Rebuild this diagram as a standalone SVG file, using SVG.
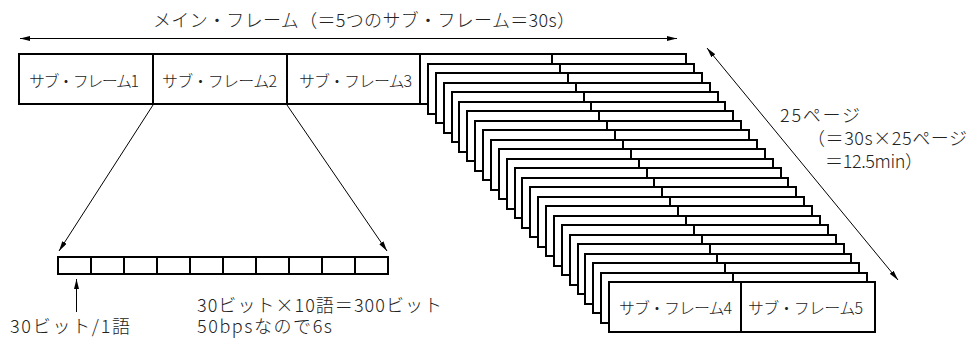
<svg xmlns="http://www.w3.org/2000/svg" xmlns:xlink="http://www.w3.org/1999/xlink" width="969" height="338" viewBox="0 0 969 338">
  <style>
    .box { fill: #fff; stroke: #000; stroke-width: 2; }
    .dv { stroke: #000; stroke-width: 2; }
    .conn { stroke: #000; stroke-width: 1; fill: none; }
    text { font-family: "Noto Sans CJK JP", "Noto Sans", "Liberation Sans", sans-serif; font-weight: 300; fill: #222; }
    .lbl { font-size: 16px; }
    .t18 { font-size: 18px; }
  </style>
  <defs>
    <marker id="ah" markerUnits="userSpaceOnUse" markerWidth="11" markerHeight="6" refX="10" refY="2.5" orient="auto-start-reverse">
      <path d="M0,0 L10,2.5 L0,5 z" fill="#000"/>
    </marker>
    <g id="pg">
      <rect class="box" x="0" y="0" width="266" height="50"/>
      <line class="dv" x1="132" y1="0" x2="132" y2="50"/>
    </g>
  </defs>
  <rect width="969" height="338" fill="#fff"/>

  <g id="title">
    <text class="t18" x="153" y="27" textLength="422" lengthAdjust="spacing">メイン・フレーム（＝5つのサブ・フレーム＝30s）</text>
  </g>

  <g id="sf1">
    <rect class="box" x="19" y="54" width="134" height="50"/>
    <text class="lbl" x="29" y="87" textLength="110" lengthAdjust="spacing">サブ・フレーム1</text>
  </g>
  <g id="sf2">
    <rect class="box" x="153" y="54" width="134" height="50"/>
    <text class="lbl" x="162" y="87" textLength="115" lengthAdjust="spacing">サブ・フレーム2</text>
  </g>
  <g id="sf3">
    <rect class="box" x="287" y="54" width="133" height="50"/>
    <text class="lbl" x="299" y="87" textLength="113" lengthAdjust="spacing">サブ・フレーム3</text>
  </g>

  <g id="page01"><use xlink:href="#pg" href="#pg" x="420" y="54"/></g>
  <g id="page02"><use xlink:href="#pg" href="#pg" x="428" y="64"/></g>
  <g id="page03"><use xlink:href="#pg" href="#pg" x="436" y="73"/></g>
  <g id="page04"><use xlink:href="#pg" href="#pg" x="444" y="83"/></g>
  <g id="page05"><use xlink:href="#pg" href="#pg" x="452" y="92"/></g>
  <g id="page06"><use xlink:href="#pg" href="#pg" x="459" y="102"/></g>
  <g id="page07"><use xlink:href="#pg" href="#pg" x="467" y="111"/></g>
  <g id="page08"><use xlink:href="#pg" href="#pg" x="475" y="121"/></g>
  <g id="page09"><use xlink:href="#pg" href="#pg" x="483" y="130"/></g>
  <g id="page10"><use xlink:href="#pg" href="#pg" x="491" y="140"/></g>
  <g id="page11"><use xlink:href="#pg" href="#pg" x="499" y="149"/></g>
  <g id="page12"><use xlink:href="#pg" href="#pg" x="507" y="159"/></g>
  <g id="page13"><use xlink:href="#pg" href="#pg" x="515" y="168"/></g>
  <g id="page14"><use xlink:href="#pg" href="#pg" x="522" y="178"/></g>
  <g id="page15"><use xlink:href="#pg" href="#pg" x="530" y="187"/></g>
  <g id="page16"><use xlink:href="#pg" href="#pg" x="538" y="197"/></g>
  <g id="page17"><use xlink:href="#pg" href="#pg" x="546" y="206"/></g>
  <g id="page18"><use xlink:href="#pg" href="#pg" x="554" y="216"/></g>
  <g id="page19"><use xlink:href="#pg" href="#pg" x="562" y="225"/></g>
  <g id="page20"><use xlink:href="#pg" href="#pg" x="570" y="235"/></g>
  <g id="page21"><use xlink:href="#pg" href="#pg" x="578" y="244"/></g>
  <g id="page22"><use xlink:href="#pg" href="#pg" x="585" y="254"/></g>
  <g id="page23"><use xlink:href="#pg" href="#pg" x="593" y="263"/></g>
  <g id="page24"><use xlink:href="#pg" href="#pg" x="601" y="273"/></g>
  <g id="page25">
    <use xlink:href="#pg" href="#pg" x="609" y="282"/>
    <text class="lbl" x="619" y="314" textLength="113" lengthAdjust="spacing">サブ・フレーム4</text>
    <text class="lbl" x="748" y="314" textLength="115" lengthAdjust="spacing">サブ・フレーム5</text>
  </g>

  <g id="words">
    <rect class="box" x="58" y="257" width="33" height="17"/>
    <rect class="box" x="91" y="257" width="33" height="17"/>
    <rect class="box" x="124" y="257" width="33" height="17"/>
    <rect class="box" x="157" y="257" width="33" height="17"/>
    <rect class="box" x="190" y="257" width="33" height="17"/>
    <rect class="box" x="223" y="257" width="33" height="17"/>
    <rect class="box" x="256" y="257" width="33" height="17"/>
    <rect class="box" x="289" y="257" width="33" height="17"/>
    <rect class="box" x="322" y="257" width="33" height="17"/>
    <rect class="box" x="355" y="257" width="33" height="17"/>
  </g>

  <g id="connectors">
    <line class="conn" x1="20" y1="38.5" x2="677" y2="38.5" marker-start="url(#ah)" marker-end="url(#ah)"/>
    <line class="conn" x1="707" y1="48" x2="898" y2="280" marker-start="url(#ah)" marker-end="url(#ah)"/>
    <line class="conn" x1="153" y1="105" x2="59" y2="251" marker-end="url(#ah)"/>
    <line class="conn" x1="287" y1="105" x2="387" y2="251" marker-end="url(#ah)"/>
    <line class="conn" x1="76.5" y1="312" x2="76.5" y2="279" marker-end="url(#ah)"/>
  </g>

  <g id="labels">
    <text class="t18" x="780" y="122" textLength="80" lengthAdjust="spacing">25ページ</text>
    <text class="t18" x="807" y="145" textLength="160" lengthAdjust="spacing">（＝30s×25ページ</text>
    <text class="t18" x="825" y="168" textLength="98" lengthAdjust="spacing">＝12.5min）</text>
    <text class="t18" x="10" y="333" textLength="120" lengthAdjust="spacing">30ビット/1語</text>
    <text class="t18" x="197" y="312" textLength="245" lengthAdjust="spacing">30ビット×10語＝300ビット</text>
    <text class="t18" x="197" y="333" textLength="135" lengthAdjust="spacing">50bpsなので6s</text>
  </g>
</svg>
